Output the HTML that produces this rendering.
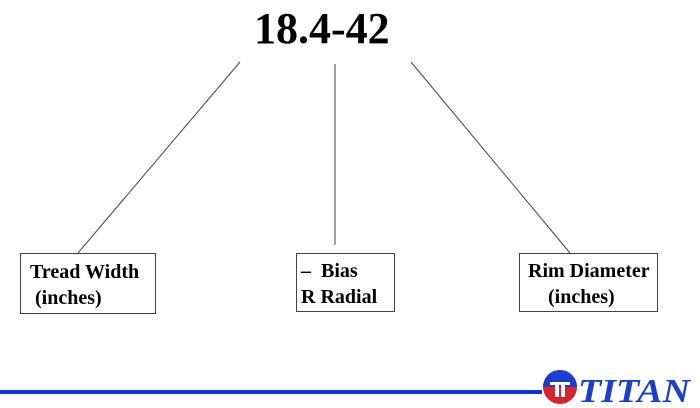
<!DOCTYPE html>
<html><head><style>
body{margin:0;width:700px;height:408px;background:#fff;position:relative;overflow:hidden;font-family:"Liberation Serif",serif;}
.t{position:absolute;font-weight:bold;color:#000;}
.box{position:absolute;border:1.5px solid #444;box-sizing:border-box;font-weight:bold;font-size:20px;line-height:26px;white-space:nowrap;}
</style></head><body>
<svg width="700" height="408" style="position:absolute;left:0;top:0">
<line x1="240" y1="62" x2="78" y2="253" stroke="#444" stroke-width="1"/>
<line x1="335" y1="64" x2="335" y2="245" stroke="#444" stroke-width="1"/>
<line x1="411" y1="62" x2="570" y2="253" stroke="#444" stroke-width="1"/>
<rect x="0" y="390" width="542" height="4" fill="#1030e0"/>
<circle cx="560" cy="387" r="17" fill="#d8232a"/>
<path d="M543 387 A17 17 0 0 1 577 387 Z" fill="#1a3fcf"/>
<path d="M550 382 h20 v3 h-5 v12 h-4 v-12 h-2 v12 h-4 v-12 h-5z" fill="#fff"/>
<text x="578" y="402" font-family="Liberation Serif,serif" font-weight="bold" font-style="italic" font-size="34" fill="#1a3fcf" textLength="112" lengthAdjust="spacingAndGlyphs">TITAN</text>
</svg>
<div class="t" style="left:254px;top:3px;font-size:44px;">18.4-42</div>
<div class="box" style="left:20px;top:253px;width:136px;height:61px;padding:5px 0 0 9px;">Tread Width<br>&nbsp;(inches)</div>
<div class="box" style="left:296px;top:253px;width:99px;height:59px;padding:4px 0 0 4px;">–&nbsp; Bias<br>R Radial</div>
<div class="box" style="left:519px;top:253px;width:139px;height:59px;padding:4px 0 0 8px;">Rim Diameter<br>&nbsp;&nbsp;&nbsp;&nbsp;(inches)</div>
</body></html>
